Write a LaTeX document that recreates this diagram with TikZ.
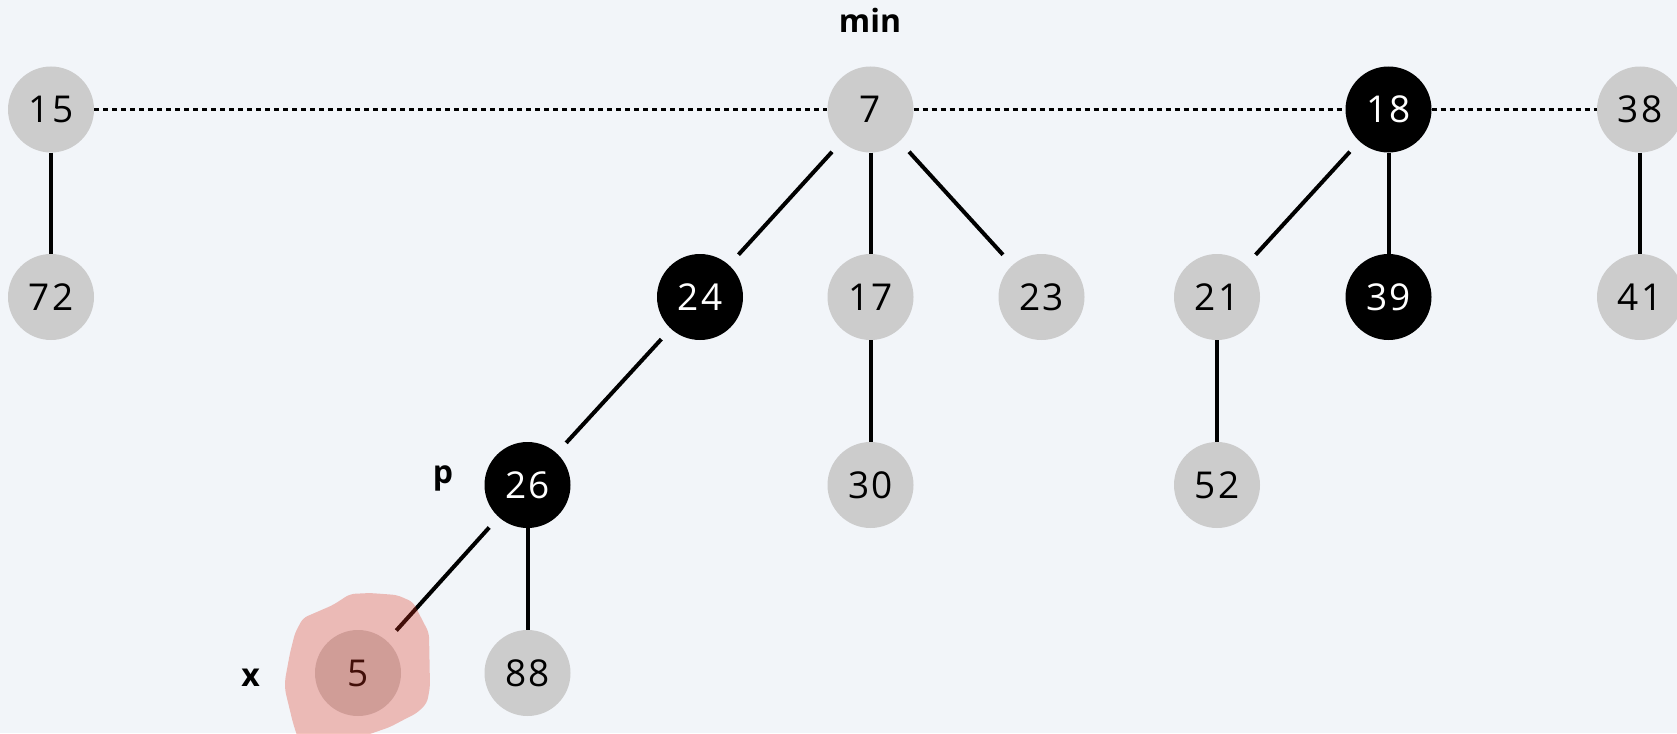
\documentclass[tikz,border=0pt]{standalone}
\usepackage{fontspec}
\setmainfont{Open Sans}
\newfontfamily\digfont[LetterSpace=6]{Open Sans}
\definecolor{bgc}{RGB}{242,245,249}
\definecolor{gnode}{RGB}{204,204,204}
\definecolor{blobred}{RGB}{220,50,30}
\begin{document}
\begin{tikzpicture}[x=1pt,y=-1pt,
  nd/.style={circle,minimum size=86pt,inner sep=0pt,font=\digfont\fontsize{37}{42}\selectfont},
  gn/.style={nd,fill=gnode,text=black},
  bn/.style={nd,fill=black,text=white},
  edge/.style={line width=4pt},
  diag/.style={edge,shorten <=14pt,shorten >=14pt},
  root/.style={line width=2.5pt,dash pattern=on 5pt off 4pt},
  lbl/.style={anchor=base,inner sep=0pt,font=\fontsize{32}{36}\selectfont\bfseries}]
\fill[bgc] (0,0) rectangle (1677,733);
\useasboundingbox (0,0) rectangle (1677,733);
% nodes
\node[gn] (n15) at (51,109.5) {15};
\node[gn] (n7) at (870.5,109.5) {7};
\node[bn] (n18) at (1388.5,109.5) {18};
\node[gn] (n38) at (1640,109.5) {38};
\node[gn] (n72) at (51,297) {72};
\node[bn] (n24) at (700,297) {24};
\node[gn] (n17) at (870.5,297) {17};
\node[gn] (n23) at (1041.5,297) {23};
\node[gn] (n21) at (1217,297) {21};
\node[bn] (n39) at (1388.5,297) {39};
\node[gn] (n41) at (1640,297) {41};
\node[bn] (n26) at (527.5,485) {26};
\node[gn] (n30) at (870.5,485) {30};
\node[gn] (n52) at (1217,485) {52};
\node[gn] (n5) at (358,673) {5};
\node[gn] (n88) at (527.5,673) {88};
% root list
\draw[root] (n15) -- (n7);
\draw[root] (n7) -- (n18);
\draw[root] (n18) -- (n38);
% edges
\draw[edge] (n15) -- (n72);
\draw[diag] (n7) -- (n24);
\draw[edge] (n7) -- (n17);
\draw[diag] (n7) -- (n23);
\draw[diag] (n24) -- (n26);
\draw[edge] (n17) -- (n30);
\draw[diag] (n26) -- (n5);
\draw[edge] (n26) -- (n88);
\draw[diag] (n18) -- (n21);
\draw[edge] (n18) -- (n39);
\draw[edge] (n21) -- (n52);
\draw[edge] (n38) -- (n41);
% labels
\node[lbl] (lmin) at (870,33) {min};
\node[lbl] (lp) at (443,483) {p};
\node[lbl] (lx) at (250.5,686) {x};
% highlight blob
\begin{scope}
\clip (0,0) rectangle (1677,733);
\fill[blobred,opacity=0.3,rounded corners=5pt]
  (303,618) -- (333,605) -- (350,594) -- (370,593) -- (397,595) -- (413,602)
  -- (429,633) -- (430,687) -- (427,703) -- (417,713) -- (407,718) -- (390,727)
  -- (367,735) -- (345,745) -- (300,745) -- (293,723) -- (285,690) -- (285,680)
  -- (290,653) -- (295,633) -- cycle;
\end{scope}
\end{tikzpicture}
\end{document}
